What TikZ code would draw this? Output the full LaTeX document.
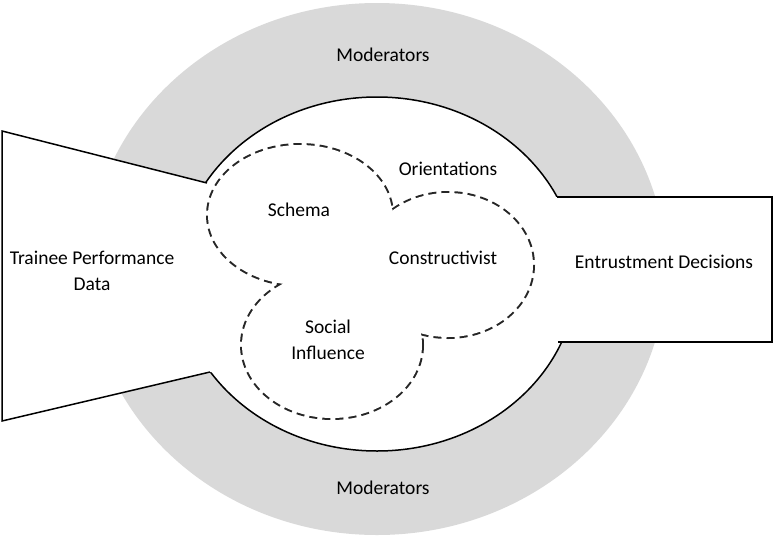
\documentclass[tikz,border=0pt]{standalone}
\usepackage{fontspec}
\setmainfont{Carlito}
\usepackage{tikz}
\usetikzlibrary{positioning}
\definecolor{ringgray}{HTML}{D9D9D9}

\begin{document}
\begin{tikzpicture}[
  x=1pt, y=-1pt,
  txt/.style={font=\fontsize{19.5}{26.5}\selectfont, align=center,
    inner sep=0pt},
  edgeline/.style={draw=black, line width=1.5pt},
  blob/.style={draw=black!85, line width=4pt, dash pattern=on 8pt off 5pt},
]
\useasboundingbox (0,0) rectangle (776,536);

% Centres
\coordinate (ringc) at (377,269);
\coordinate (innerc) at (377,274);
\coordinate (schemac) at (300,215);
\coordinate (constrc) at (448,265);
\coordinate (socialc) at (332,345);

% Moderators ring
\fill[ringgray] (ringc) ellipse [x radius=289, y radius=266];
\filldraw[fill=white, edgeline] (innerc) ellipse [x radius=200, y radius=177];

% Input wedge (left)
\fill[white] (207,183) -- (2,131) -- (2,421) -- (210,372) -- (225,372)
  -- (225,183) -- cycle;
\draw[edgeline] (207,183) -- (2,131) -- (2,421) -- (210,372);

% Output box (right)
\fill[white] (545,197) rectangle (773,342);
\draw[edgeline] (557,197) -- (772,197) -- (772,342) -- (558,342);

% Orientations: outline of the three frames
\draw[blob] (schemac) ellipse [x radius=92, y radius=70]
  (constrc) ellipse [x radius=85, y radius=72]
  (socialc) ellipse [x radius=90, y radius=73];
\fill[white] (schemac) ellipse [x radius=92, y radius=70]
  (constrc) ellipse [x radius=85, y radius=72]
  (socialc) ellipse [x radius=90, y radius=73];
\fill[white] (schemac) -- (constrc) -- (socialc) -- cycle;

% Labels
\node[txt] (modtop) at (383,55) {Moderators};
\node[txt] (modbot) at (383,488) {Moderators};
\node[txt] (orient) at (448,169) {Orientations};
\node[txt] (schema) at (299,210) {Schema};
\node[txt] (constr) at (443,258) {Constructivist};
\node[txt] (social) at (328,340) {Social\\Influence};
\node[txt] (trainee) at (92,271) {Trainee Performance\\Data};
\node[txt] (entrust) at (664,262) {Entrustment Decisions};

\end{tikzpicture}
\end{document}
